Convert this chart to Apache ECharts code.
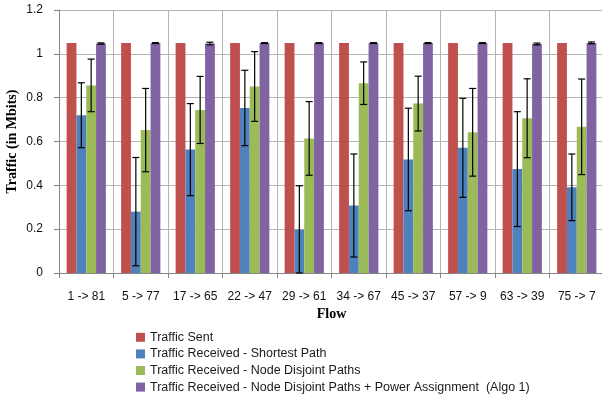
<!DOCTYPE html>
<html><head><meta charset="utf-8">
<script src="https://cdn.jsdelivr.net/npm/echarts@6/dist/echarts.min.js"></script>
<style>html,body{margin:0;padding:0;background:#fff}#c{width:602px;height:403px}</style>
</head><body><div id="c"></div>
<script>
var categories = ['1 -> 81','5 -> 77','17 -> 65','22 -> 47','29 -> 61','34 -> 67','45 -> 37','57 -> 9','63 -> 39','75 -> 7'];
var seriesNames = ['Traffic Sent','Traffic Received - Shortest Path','Traffic Received - Node Disjoint Paths','Traffic Received - Node Disjoint Paths + Power Assignment  (Algo 1)'];
var sent = [1.05,1.05,1.05,1.05,1.05,1.05,1.05,1.05,1.05,1.05];
var shortest = [0.72,0.28,0.563,0.753,0.198,0.308,0.518,0.571,0.474,0.391];
var shortestErr = [0.148,0.247,0.21,0.172,0.2,0.235,0.234,0.226,0.262,0.152];
var disjoint = [0.856,0.652,0.744,0.851,0.614,0.866,0.773,0.642,0.706,0.667];
var disjointErr = [0.12,0.19,0.153,0.159,0.168,0.097,0.125,0.2,0.18,0.218];
var algo = [1.047,1.049,1.047,1.049,1.049,1.049,1.049,1.049,1.045,1.05];
var algoErr = [0.003,0.002,0.006,0.002,0.002,0.002,0.002,0.002,0.004,0.004];
var yTicks = [0,0.2,0.4,0.6,0.8,1,1.2];

var colors = ['#C0504D','#4F81BD','#9BBB59','#8064A2'];
var values = [sent, shortest, disjoint, algo];
var errs = [null, shortestErr, disjointErr, algoErr];
var catGap = 0.28;

var chart = echarts.init(document.getElementById('c'), null, {renderer:'canvas'});
var series = [];
values.forEach(function(v, s){
  series.push({type:'bar', name:seriesNames[s], data:v, barGap:'0%', barCategoryGap:(catGap*100)+'%',
    itemStyle:{color:colors[s]}, z:2});
});
errs.forEach(function(e, s){
  if(!e) return;
  var d = values[s].map(function(v,i){return [i, v, e[i]];});
  series.push({type:'custom', name:'err'+s, data:d, z:5, silent:true,
    renderItem:function(params, api){
      var i = api.value(0), v = api.value(1), er = api.value(2);
      var band = api.size([1,0])[0];
      var bw = band*(1-catGap)/4;
      var c = api.coord([i, v]);
      var cx = c[0] - band*(1-catGap)/2 + bw*(s+0.5);
      var top = api.coord([i, v+er])[1];
      var bot = api.coord([i, Math.max(0, v-er)])[1];
      var hw = 3.5;
      var st = {stroke:'#000', lineWidth:1.2};
      return {type:'group', children:[
        {type:'line', shape:{x1:cx,y1:top,x2:cx,y2:bot}, style:st},
        {type:'line', shape:{x1:cx-hw,y1:top,x2:cx+hw,y2:top}, style:st},
        {type:'line', shape:{x1:cx-hw,y1:bot,x2:cx+hw,y2:bot}, style:st}
      ]};
    }});
});

chart.setOption({
  animation:false,
  textStyle:{fontFamily:'Liberation Sans'},
  grid:{left:59, top:10, width:545, height:263, containLabel:false, outerBoundsMode:'none'},
  legend:{orient:'vertical', left:136, top:329, padding:0, itemWidth:9, itemHeight:9, itemGap:0, itemTextGap:3,
    icon:'rect', data:seriesNames, itemStyle:{borderWidth:0},
    textStyle:{fontFamily:'Liberation Sans', fontSize:12.5, color:'#1a1a1a', lineHeight:16.6}},
  xAxis:{type:'category', data:categories, name:'Flow', nameLocation:'middle', nameGap:34, nameMoveOverlap:false,
    nameTextStyle:{fontFamily:'Liberation Serif', fontWeight:'bold', fontSize:14, color:'#000'},
    axisLine:{lineStyle:{color:'#868686'}}, axisTick:{show:true, length:5, lineStyle:{color:'#868686'}},
    axisLabel:{color:'#111', fontSize:12, margin:18, interval:0},
    splitLine:{show:true, lineStyle:{color:'#b4b4b4', width:1}}},
  yAxis:{type:'value', min:0, max:1.2, interval:0.2, name:'Traffic (in Mbits)', nameLocation:'middle', nameGap:40, nameMoveOverlap:false,
    nameTextStyle:{fontFamily:'Liberation Serif', fontWeight:'bold', fontSize:14, color:'#000'},
    axisLine:{show:true, lineStyle:{color:'#868686'}}, axisTick:{show:true, length:5, lineStyle:{color:'#868686'}},
    axisLabel:{color:'#111', fontSize:12, margin:16, formatter:function(v){return String(Math.round(v*10)/10);}},
    splitLine:{show:true, lineStyle:{color:'#b4b4b4', width:1}}},
  series:series
});
</script></body></html>
